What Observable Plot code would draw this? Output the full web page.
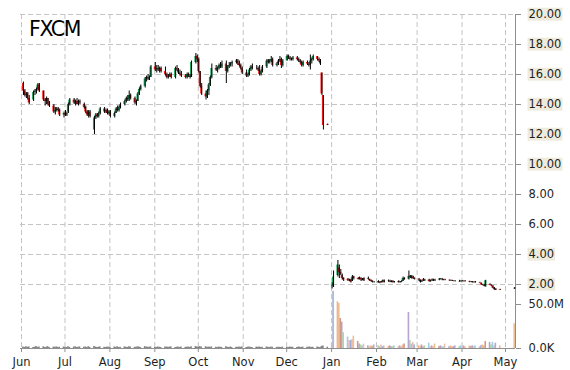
<!DOCTYPE html>
<html><head><meta charset="utf-8">
<script src="https://cdn.jsdelivr.net/npm/d3@7"></script>
<script src="https://cdn.jsdelivr.net/npm/@observablehq/plot@0.6"></script>
<style>
html,body{margin:0;padding:0;background:#fff;}
#wrap{position:relative;width:570px;height:370px;overflow:hidden;font-family:"DejaVu Sans";}
#wrap svg{position:absolute;left:0;top:0;}
#title{position:absolute;left:29px;top:19px;font-size:20.5px;line-height:1;letter-spacing:-1.3px;color:#000;white-space:nowrap;z-index:3;}
</style></head><body>
<div id="wrap"><div id="title"></div></div>
<script>
const ticker = "FXCM";

// trading-day ranges (weekdays, end exclusive) and isolated extra day
const rangeA = ["2014-06-02", "2014-12-30"];
const rangeB = ["2015-01-01", "2015-04-28"];
const extraDays = ["2015-05-07"];

// OHLC (USD), in date order
const open = [
15.4,14.9,14.6,14.7,14.4, 14.3,14.8,14.9,15.0,15.3, 14.9,14.3,14.2,14.4,14.0, 13.9,13.5,13.6,13.7,13.6, 13.3,
13.4,13.3,13.5,14.0, 14.3,14.1,14.2,14.0,14.2, 14.0,13.8,13.5,13.3,13.5, 12.3,13.1,13.3,13.2,13.4, 13.7,13.5,13.6,13.4,
13.5, 13.2,13.4,13.7,13.6,13.8, 14.0,14.2,14.4,14.3,14.6, 14.4,14.1,14.2,14.7,15.0, 15.2,15.7,15.8,15.7,15.8,
16.5,16.3,16.4,16.3,16.4, 16.2,16.0,15.8,15.9,16.0, 15.8,16.4,16.3,16.1,16.0, 15.9,15.8,16.0,15.9,15.8, 16.8,17.2,
17.0,16.2,15.2, 14.7,14.5,14.9,15.3,15.8, 16.4,16.3,16.4,16.6,16.5, 16.7,16.2,16.5,16.6,16.7, 16.8,16.9,16.7,16.6,16.4,
16.1,15.9,16.0,16.3,16.5, 16.4,16.4,16.3,16.0,16.2, 16.5,16.9,16.8,16.9,17.0, 16.6,16.7,16.9,17.0,16.6,
16.9,17.2,17.1,17.0,17.0, 17.1,17.0,16.9,16.8,16.6, 16.8,16.7,16.6,16.9,17.0, 17.2,17.0,16.9,16.1,14.6, 12.65,
1.9,1.9, 2.6,3.1,2.8,2.6,2.4, 2.35,2.3,2.3,2.2,2.5, 2.4,2.45,2.4,2.3,2.4, 2.35,2.35,2.25,2.2,2.15,
2.2,2.1,2.18,2.15,2.25, 2.2,2.22,2.15,2.2,2.12, 2.2,2.12,2.18,2.2,2.4, 2.35,2.55,2.4,2.5,2.4,
2.35,2.3,2.15,2.3,2.25, 2.3,2.2,2.3,2.25,2.3, 2.3,2.35,2.35,2.3,2.3, 2.28,2.25,2.25,2.22,2.2, 2.2,2.18,
2.23,2.2,2.22, 2.2,2.15,2.17,2.12,2.15, 2.12,2.08,2.0,1.95,1.85, 2.0,1.95,1.9,1.78,1.7, 1.65,
1.7];
const high = [
15.5,15.0,14.8,14.8,14.6, 14.9,15.0,15.1,15.4,15.4, 14.9,14.4,14.5,14.4,14.2, 14.0,13.8,13.8,13.8,13.7, 13.5,
13.6,13.5,14.1,14.4, 14.4,14.3,14.4,14.3,14.3, 14.1,13.9,13.6,13.6,13.6, 13.2,13.4,13.4,13.5,13.8, 13.8,13.7,13.7,13.6,
13.6, 13.5,13.8,13.9,13.9,14.1, 14.3,14.5,14.6,14.9,14.7, 14.5,14.3,14.8,15.1,15.3, 15.8,15.9,16.0,15.9,16.6,
16.8,16.6,16.6,16.5,16.5, 16.5,16.1,16.0,16.1,16.1, 16.5,16.6,16.4,16.3,16.2, 16.0,16.1,16.1,16.0,16.9, 17.4,17.3,
17.1,16.2,15.4, 14.9,15.0,15.4,15.9,16.7, 16.6,16.5,16.7,16.8,16.9, 16.9,16.6,16.8,16.8,16.9, 17.0,17.0,16.9,16.7,16.5,
16.3,16.1,16.4,16.6,16.7, 16.6,16.5,16.6,16.3,16.6, 17.0,17.0,17.0,17.2,17.1, 16.8,17.0,17.2,17.1,17.0,
17.3,17.3,17.2,17.1,17.2, 17.2,17.1,17.0,16.9,16.9, 16.9,16.8,17.3,17.1,17.3, 17.2,17.1,17.0,16.1,14.6, 12.7,
2.1,2.9, 3.6,3.3,3.0,2.7,2.45, 2.4,2.35,2.35,2.6,2.55, 2.45,2.5,2.45,2.4,2.45, 2.5,2.35,2.3,2.25,2.2,
2.25,2.2,2.2,2.3,2.3, 2.3,2.28,2.25,2.26,2.2, 2.25,2.2,2.25,2.5,2.45, 2.9,2.6,2.6,2.55,2.45,
2.4,2.3,2.3,2.4,2.35, 2.35,2.3,2.37,2.35,2.35, 2.4,2.4,2.4,2.35,2.35, 2.3,2.3,2.28,2.25,2.25, 2.28,2.25,
2.25,2.25,2.24, 2.22,2.2,2.2,2.18,2.2, 2.15,2.1,2.02,2.0,2.28, 2.05,1.97,1.92,1.8,1.72, 1.68,
1.8];
const low = [
14.6,14.5,14.4,14.3,14.0, 14.2,14.6,14.7,14.9,14.8, 14.2,13.9,14.0,13.9,13.8, 13.4,13.3,13.5,13.5,13.2, 13.1,
13.2,13.2,13.4,13.9, 14.0,13.9,14.0,13.9,14.0, 13.7,13.4,13.2,13.1,13.1, 12.0,13.0,13.1,13.1,13.3, 13.4,13.4,13.3,13.3,
13.1, 13.1,13.4,13.5,13.5,13.7, 13.9,14.1,14.2,14.2,14.3, 14.0,13.9,14.2,14.6,14.9, 15.1,15.5,15.6,15.6,15.8,
16.2,16.1,16.2,16.1,16.1, 15.9,15.7,15.7,15.8,15.7, 15.7,16.2,16.0,15.9,15.8, 15.7,15.7,15.8,15.7,15.8, 16.7,16.8,
16.1,15.1,14.6, 14.3,14.4,14.6,15.2,15.7, 16.2,16.1,16.3,16.4,16.4, 15.4,16.1,16.4,16.5,16.5, 16.7,16.6,16.5,16.3,16.0,
15.8,15.8,15.9,16.2,16.3, 16.3,16.2,15.9,15.9,16.1, 16.4,16.7,16.7,16.8,16.5, 16.5,16.6,16.8,16.4,16.5,
16.9,17.0,16.9,16.9,16.9, 16.9,16.8,16.7,16.5,16.5, 16.6,16.5,16.3,16.7,16.9, 16.9,16.8,16.6,14.6,12.3, 12.6,
1.7,1.8, 2.5,2.4,2.6,2.3,2.2, 2.2,2.2,2.1,2.2,2.3, 2.3,2.3,2.2,2.25,2.2, 2.3,2.2,2.15,2.1,2.1,
2.1,2.05,2.1,2.1,2.1, 2.15,2.12,2.12,2.1,2.1, 2.1,2.1,2.12,2.2,2.3, 2.3,2.4,2.35,2.35,2.3,
2.2,2.1,2.15,2.2,2.2, 2.15,2.15,2.2,2.2,2.2, 2.25,2.3,2.25,2.25,2.25, 2.22,2.2,2.2,2.18,2.17, 2.15,2.15,
2.18,2.15,2.17, 2.12,2.12,2.1,2.1,2.1, 2.08,1.95,1.92,1.85,1.82, 1.92,1.88,1.72,1.62,1.6, 1.6,
1.67];
const close = [
14.9,14.6,14.7,14.4,14.1, 14.8,14.9,15.0,15.3,14.9, 14.3,14.2,14.4,14.0,13.9, 13.5,13.6,13.7,13.6,13.3, 13.4,
13.3,13.4,14.0,14.3, 14.1,14.2,14.0,14.2,14.1, 13.8,13.5,13.3,13.5,13.2, 13.1,13.3,13.2,13.4,13.7, 13.5,13.6,13.4,13.5,
13.2, 13.4,13.7,13.6,13.8,14.0, 14.2,14.4,14.3,14.6,14.4, 14.1,14.2,14.7,15.0,15.2, 15.7,15.8,15.7,15.8,16.5,
16.3,16.4,16.3,16.4,16.2, 16.0,15.8,15.9,16.0,15.8, 16.4,16.3,16.1,16.0,15.9, 15.8,16.0,15.9,15.8,16.8, 17.2,17.0,
16.2,15.2,14.7, 14.5,14.9,15.3,15.8,16.4, 16.3,16.4,16.6,16.5,16.7, 16.2,16.5,16.6,16.7,16.8, 16.9,16.7,16.6,16.4,16.1,
15.9,16.0,16.3,16.5,16.4, 16.4,16.3,16.0,16.2,16.5, 16.9,16.8,16.9,17.0,16.6, 16.7,16.9,17.0,16.6,16.9,
17.2,17.1,17.0,17.0,17.1, 17.0,16.9,16.8,16.6,16.8, 16.7,16.6,16.9,17.0,17.2, 17.0,16.9,16.7,14.7,12.6, 12.6,
1.95,2.5, 3.3,2.8,2.7,2.4,2.3, 2.25,2.3,2.15,2.5,2.4, 2.35,2.35,2.3,2.35,2.25, 2.4,2.25,2.2,2.15,2.15,
2.1,2.15,2.12,2.25,2.15, 2.22,2.15,2.2,2.12,2.18, 2.12,2.18,2.14,2.4,2.3, 2.55,2.45,2.55,2.4,2.35,
2.3,2.15,2.25,2.25,2.3, 2.2,2.25,2.25,2.3,2.25, 2.35,2.36,2.3,2.3,2.27, 2.25,2.26,2.22,2.2,2.22, 2.18,2.23,
2.2,2.22,2.2, 2.15,2.17,2.12,2.15,2.12, 2.1,1.98,1.95,1.88,2.25, 1.95,1.9,1.75,1.65,1.62, 1.62,
1.75];
// volume, millions of shares
const volume = [
1.6,1.2,2.0,1.4,1.8, 1.1,1.5,2.2,1.3,1.7, 1.9,1.2,1.4,2.1,1.0, 1.6,1.3,1.8,1.2,1.5, 1.7,
1.4,1.1,1.9,1.3, 1.6,2.0,1.2,1.5,1.8, 1.3,1.7,1.1,1.9,1.4, 2.3,1.6,1.2,1.5,1.8, 1.3,1.1,1.6,1.4,
1.2, 1.7,1.3,1.9,1.1,1.5, 1.8,1.4,1.2,2.0,1.6, 1.3,1.5,1.9,1.7,1.2, 2.1,1.6,1.4,1.3,1.8,
1.5,1.2,1.7,1.4,1.1, 1.8,1.6,1.3,1.5,1.9, 1.2,1.4,1.7,1.1,1.6, 1.3,1.5,1.8,1.2,2.0, 2.2,1.7,
1.9,2.1,1.8, 2.0,1.5,1.6,1.3,1.8, 1.4,1.2,1.6,1.5,1.3, 1.9,1.4,1.1,1.7,1.2, 1.5,1.3,1.6,1.4,1.8,
1.2,1.5,1.7,1.3,1.1, 1.6,1.4,1.8,1.2,1.5, 1.7,1.3,1.1,1.6,1.4, 1.2,1.5,1.3,1.0,1.6,
1.4,1.2,1.6,1.3,1.5, 1.1,1.7,1.4,1.2,1.6, 1.3,1.5,1.8,1.2,1.4, 1.6,1.3,1.1,2.4,2.8, 1.5,
6,65, 53,51,34,30,18, 13,9,9,10,14, 8,5,4,3,5, 3,2,3,2,4,
3,2,4,2,3, 2,3,2,2,3, 2,3,2,4,5, 41,9,5,7,4,
3,2,4,2,3, 6,2,3,2,5, 2,3,2,2,5, 2,3,2,2,3, 2,3,
2,3,2, 3,2,3,2,3, 2,3,4,3,8, 7,4,7,3,6, 3,
28];

const priceTicks = [2, 4, 6, 8, 10, 12, 14, 16, 18, 20];
const volumeTicks = [0, 50e6];
const plainLabels = ["8.00", "6.00"]; // labels drawn without a highlight box
const monthStart = "2014-06-01", monthEnd = "2015-05-02";

// ---- build table ----
const toDate = s => new Date(s + "T00:00:00Z");
const weekdays = (a, b) => d3.utcDay.range(toDate(a), toDate(b)).filter(d => d.getUTCDay() % 6 !== 0);
const dates = [...weekdays(...rangeA), ...weekdays(...rangeB), ...extraDays.map(toDate)];
if (dates.length !== open.length || open.length !== close.length || high.length !== low.length || volume.length !== open.length || high.length !== open.length)
  console.error("length mismatch", dates.length, open.length, high.length, low.length, close.length, volume.length);
const crash = toDate(rangeB[0]);
const rows = dates.map((date, i) => ({date, open: open[i], high: high[i], low: low[i], close: close[i], volume: volume[i] * 1e6, i}));
const monthTicks = d3.utcMonth.range(toDate(monthStart), toDate(monthEnd));

const xDomain = [new Date("2014-05-31T07:26:00Z"), new Date("2015-05-07T21:40:00Z")];
const up = "#14a35c", down = "#ff1a1a";
const grid = "#c4c4c4", axisGray = "#8f8f8f";
const volPalette = ["#8ea2cc", "#f3a57f", "#e6b27f", "#c88674", "#a596c9", "#a6cf8c", "#8fc3e4", "#eab2aa"];
const font = {fontFamily: "DejaVu Sans", fontSize: "11.5px", color: "#1e1e1e", background: "transparent", overflow: "visible"};

const volChart = Plot.plot({
  width: 570, height: 370, marginLeft: 20, marginRight: 55, marginTop: 304, marginBottom: 22,
  style: font,
  x: {type: "utc", domain: xDomain, ticks: monthTicks, tickFormat: d3.utcFormat("%b"), tickSize: 4, tickPadding: 5, label: null},
  y: {domain: [0, 50e6], axis: "right", ticks: volumeTicks, tickFormat: d => d === 0 ? "0.0K" : (d / 1e6).toFixed(1) + "M", tickSize: 5, tickPadding: 8, label: null},
  marks: [
    Plot.ruleX(rows, {x: "date", y1: 0, y2: "volume", strokeWidth: 1.6, strokeOpacity: 0.85,
      stroke: d => d.date < crash ? "#6e6e6e" : volPalette[d.i % volPalette.length]}),
    Plot.ruleY([0], {stroke: axisGray})
  ]
});

const priceChart = Plot.plot({
  width: 570, height: 370, marginLeft: 20, marginRight: 55, marginTop: 14, marginBottom: 22,
  style: font,
  x: {type: "utc", domain: xDomain, axis: null},
  y: {domain: [-34 / 15, 20], axis: "right", ticks: priceTicks, tickFormat: d => d.toFixed(2), tickSize: 5, tickPadding: 8, label: null},
  marks: [
    Plot.ruleY(priceTicks, {stroke: grid, strokeDasharray: "5,3"}),
    Plot.ruleX(monthTicks, {stroke: grid, strokeDasharray: "5,3"}),
    Plot.ruleX([xDomain[1]], {stroke: axisGray}),
    Plot.ruleX(rows, {x: "date", y1: "open", y2: "close", strokeWidth: 2, stroke: d => d.close >= d.open ? up : down}),
    Plot.ruleX(rows, {x: "date", y1: "low", y2: "high", stroke: "#000", strokeWidth: 1, dx: 0.5})
  ]
});

const wrap = document.getElementById("wrap");
wrap.appendChild(volChart);
wrap.appendChild(priceChart);
document.getElementById("title").textContent = ticker;

// axis styling: gray tick marks, beige label highlights on price axis
for (const svg of [volChart, priceChart]) {
  svg.querySelectorAll('[aria-label$="axis"] line, [aria-label$="axis tick"] path, [aria-label$="axis"] path').forEach(el => el.setAttribute("stroke", axisGray));
}
priceChart.querySelectorAll('[aria-label="y-axis tick label"] text, [aria-label="y-axis"] text').forEach(t => {
  if (plainLabels.includes(t.textContent)) return;
  const bb = t.getBBox();
  const r = document.createElementNS("http://www.w3.org/2000/svg", "rect");
  r.setAttribute("x", bb.x - 1); r.setAttribute("y", bb.y + 0.5);
  r.setAttribute("width", bb.width + 2); r.setAttribute("height", bb.height - 1);
  r.setAttribute("fill", "#eeebdd");
  if (t.getAttribute("transform")) r.setAttribute("transform", t.getAttribute("transform"));
  t.parentNode.insertBefore(r, t);
});
</script>
</body></html>
